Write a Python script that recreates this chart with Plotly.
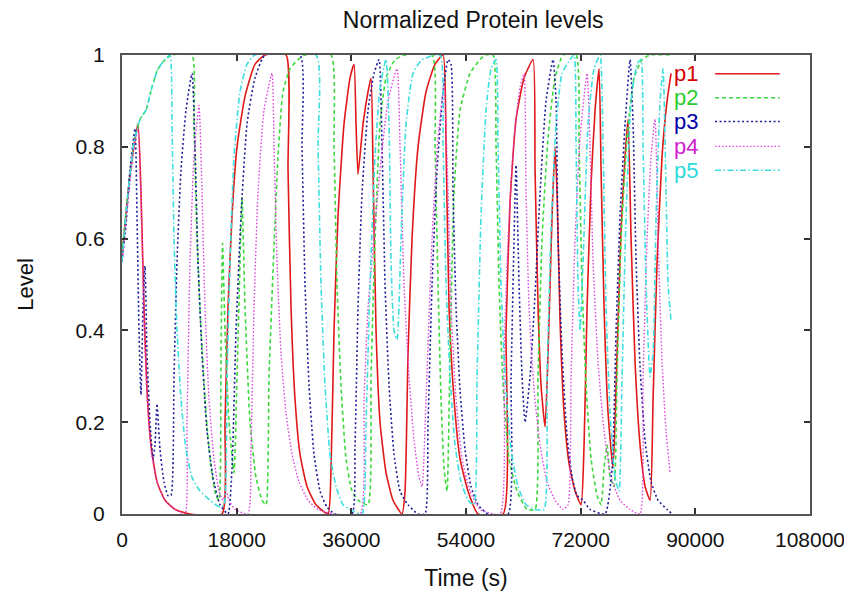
import plotly.graph_objects as go

# ---------------- data (time in s, normalized level) ----------------
t_p1 = [0, 1256, 2512, 2983, 3454, 3925, 4553, 5495, 6751, 8321, 10676, 15700, 16171, 16642, 17270, 18055, 19311, 20881, 22451,
        25748, 26062, 26533, 27161, 27946, 29045, 30458, 32342, 32813, 33284, 33912, 34854, 35796, 36424, 36738, 37052, 37837,
        38622, 39093, 39407, 39878, 40506, 41448, 42547, 43960, 44431, 44902, 45530, 46472, 47728, 49141, 50397, 50868, 51339,
        52124, 53066, 54322, 55892, 59817, 60288, 60916, 61858, 63114, 64527, 64841, 65312, 65783, 66411, 66882, 67510, 67981,
        68295, 68766, 69394, 70179, 71121, 72063, 72534, 73005, 73633, 74261, 74889, 75203, 75674, 76302, 77087, 77715, 78343,
        78971, 79442, 79913, 80541, 81326, 82111, 82896, 83367, 83995, 84780, 85565, 86193]
y_p1 = [0.56, 0.74, 0.85, 0.70, 0.45, 0.27, 0.15, 0.07, 0.03, 0.01, 0.0, 0.0, 0.2, 0.45, 0.65, 0.8, 0.91, 0.98, 1.0,
        1.0, 0.75, 0.45, 0.25, 0.13, 0.06, 0.02, 0.0, 0.1, 0.4, 0.65, 0.85, 0.95, 0.98, 0.85, 0.74, 0.85,
        0.92, 0.95, 0.75, 0.4, 0.2, 0.09, 0.03, 0.0, 0.05, 0.35, 0.6, 0.8, 0.92, 0.98, 1.0, 0.8, 0.45,
        0.25, 0.12, 0.05, 0.0, 0.0, 0.4, 0.68, 0.86, 0.95, 0.99, 0.75, 0.45, 0.28, 0.19, 0.35, 0.65, 0.8,
        0.7, 0.42, 0.22, 0.11, 0.05, 0.02, 0.15, 0.45, 0.72, 0.88, 0.97, 0.75, 0.45, 0.22, 0.1, 0.35, 0.62,
        0.78, 0.86, 0.6, 0.33, 0.15, 0.06, 0.03, 0.25, 0.55, 0.78, 0.9, 0.96]

t_p2 = [0, 942, 1884, 2826, 3768, 4710, 5652, 6751, 7850, 10990, 11304, 11775, 12403, 13188, 13973, 14758, 15229, 15543, 15779,
        16171, 16799, 17584, 18055, 18526, 18840, 19311, 20096, 21038, 21980, 22608, 23079, 23707, 24492, 25277, 26376, 27632,
        28731, 32813, 33284, 33755, 34383, 35168, 36110, 37052, 38622, 39093, 39721, 40506, 41448, 42861, 44431, 48670, 49141,
        49612, 50083, 50554, 51025, 51496, 52124, 53066, 54636, 56206, 56991, 58247, 58718, 59189, 59817, 60759, 62015, 63585,
        64841, 65312, 65940, 66882, 67981, 69237, 71278, 71749, 72220, 72848, 73633, 74575, 75203, 75674, 76145, 76616, 77244,
        77715, 78343, 79285, 80384, 81640, 82896, 86350]
y_p2 = [0.57, 0.70, 0.81, 0.86, 0.88, 0.93, 0.97, 0.99, 1.0, 1.0, 0.85, 0.6, 0.4, 0.22, 0.1, 0.04, 0.03, 0.35, 0.59,
        0.4, 0.2, 0.09, 0.3, 0.55, 0.69, 0.45, 0.2, 0.08, 0.03, 0.02, 0.3, 0.53, 0.78, 0.92, 0.97, 0.99,
        1.0, 1.0, 0.8, 0.5, 0.28, 0.12, 0.05, 0.03, 0.02, 0.3, 0.6, 0.85, 0.95, 0.99, 1.0, 1.0, 0.8,
        0.5, 0.25, 0.1, 0.05, 0.35, 0.7, 0.88, 0.96, 0.99, 1.0, 1.0, 0.8, 0.5, 0.28, 0.12, 0.05, 0.01,
        0.01, 0.3, 0.6, 0.82, 0.95, 1.0, 1.0, 0.8, 0.5, 0.28, 0.12, 0.04, 0.02, 0.1, 0.15, 0.08, 0.06,
        0.3, 0.6, 0.82, 0.95, 0.99, 1.0, 1.0]

t_p3 = [0, 628, 1256, 2041, 2355, 2669, 2983, 3297, 3611, 3925, 4396, 4867, 5181, 5495, 5966, 6594, 7222, 7693, 8164, 8635,
        9263, 10048, 10990, 11461, 11932, 12560, 13345, 14287, 15386, 16642, 17270, 17898, 18683, 19625, 20881, 22451, 27946,
        28260, 28731, 29359, 30144, 31086, 32185, 33441, 36110, 36581, 37052, 37680, 38622, 39564, 40349, 40820, 41291, 41919,
        42704, 43646, 44902, 46472, 47571, 48042, 48670, 49455, 50397, 51182, 51653, 51967, 52438, 53066, 53851, 54793, 55892,
        57462, 60602, 61073, 61544, 61858, 62329, 62800, 63271, 64056, 64841, 65626, 66568, 67667, 68138, 68452, 69080, 69865,
        70650, 71435, 72377, 73476, 75831, 76930, 77558, 78186, 78971, 79756, 80227, 80698, 81326, 82111, 83053, 84152, 85565,
        86350]
y_p3 = [0.55, 0.63, 0.75, 0.84, 0.65, 0.4, 0.26, 0.45, 0.54, 0.35, 0.2, 0.12, 0.15, 0.24, 0.14, 0.07, 0.04, 0.04, 0.3, 0.55,
        0.75, 0.88, 0.96, 0.8, 0.55, 0.35, 0.18, 0.08, 0.02, 0.0, 0.1, 0.4, 0.65, 0.85, 0.95, 1.0, 1.0,
        0.8, 0.5, 0.28, 0.13, 0.05, 0.015, 0.0, 0.0, 0.15, 0.45, 0.7, 0.88, 0.96, 0.99, 0.8, 0.5, 0.28,
        0.13, 0.05, 0.02, 0.0, 0.0, 0.2, 0.5, 0.75, 0.92, 0.99, 0.98, 0.7, 0.45, 0.27, 0.14, 0.06, 0.02,
        0.0, 0.0, 0.3, 0.6, 0.76, 0.5, 0.3, 0.2, 0.3, 0.48, 0.7, 0.9, 0.99, 0.9, 0.6, 0.35, 0.17,
        0.08, 0.04, 0.03, 0.01, 0.0, 0.1, 0.4, 0.65, 0.85, 0.99, 0.85, 0.55, 0.32, 0.16, 0.07, 0.03, 0.01,
        0.0]

t_p4 = [0, 942, 1884, 2512, 2983, 3454, 3925, 4553, 5495, 6751, 8321, 9891, 10205, 10676, 11304, 12089, 12560, 13031, 13659,
        14444, 15229, 15857, 16328, 16799, 17741, 19782, 20253, 20724, 21352, 22294, 23550, 23864, 24335, 24963, 25748, 26690,
        27789, 29202, 30772, 33127, 37366, 37994, 38622, 39407, 40506, 41762, 43175, 43646, 44274, 45059, 45844, 46629, 47100,
        47728, 48670, 49612, 50554, 51182, 51653, 52438, 53380, 54636, 56206, 59346, 59974, 60602, 61544, 62486, 63114, 63428,
        63899, 64684, 65626, 66725, 67981, 69237, 70022, 70493, 71121, 71906, 73005, 73476, 73947, 74732, 75674, 76773, 78186,
        79756, 81326, 81797, 82425, 83053, 83681, 84152, 84780, 85408, 86036]
y_p4 = [0.55, 0.68, 0.8, 0.84, 0.68, 0.43, 0.26, 0.14, 0.07, 0.03, 0.01, 0.0, 0.2, 0.55, 0.78, 0.89, 0.7, 0.45, 0.25,
        0.12, 0.05, 0.03, 0.05, 0.03, 0.01, 0.0, 0.15, 0.45, 0.7, 0.88, 0.96, 0.8, 0.55, 0.35, 0.22, 0.13,
        0.07, 0.03, 0.01, 0.0, 0.0, 0.25, 0.45, 0.58, 0.75, 0.9, 0.97, 0.8, 0.5, 0.3, 0.16, 0.08, 0.06,
        0.25, 0.6, 0.82, 0.93, 0.7, 0.45, 0.25, 0.12, 0.05, 0.01, 0.0, 0.35, 0.6, 0.82, 0.93, 0.96, 0.7,
        0.45, 0.27, 0.15, 0.07, 0.03, 0.01, 0.02, 0.3, 0.6, 0.82, 0.96, 0.8, 0.55, 0.33, 0.18, 0.08, 0.03,
        0.01, 0.0, 0.3, 0.6, 0.78, 0.86, 0.6, 0.33, 0.18, 0.09]

t_p5 = [0, 942, 1884, 2826, 3768, 4710, 5652, 6751, 7536, 7850, 8164, 8635, 9263, 10048, 10990, 12246, 13816, 15386, 16014,
        16485, 16956, 17584, 18526, 19625, 20881, 30458, 30772, 31243, 31871, 32656, 33598, 34697, 35796, 37680, 38308, 38936,
        39721, 40506, 41448, 41919, 42233, 42704, 43175, 43803, 44588, 45687, 47100, 49926, 50397, 50868, 51496, 52281, 53223,
        54322, 55264, 55735, 56363, 57148, 57933, 58718, 59032, 59503, 60131, 61073, 62172, 63428, 64841, 66254, 66725, 67353,
        68138, 69080, 70336, 70964, 71278, 71592, 71906, 72377, 73162, 74104, 75046, 75517, 75988, 76616, 77401, 78029, 78500,
        79128, 79913, 80855, 81483, 81797, 82268, 82896, 83367, 83838, 84466, 84937, 85408, 85722, 86193]
y_p5 = [0.55, 0.7, 0.81, 0.86, 0.88, 0.93, 0.97, 0.99, 1.0, 0.85, 0.6, 0.4, 0.25, 0.14, 0.08, 0.05, 0.03, 0.015, 0.02,
        0.3, 0.55, 0.78, 0.92, 0.98, 1.0, 1.0, 0.8, 0.5, 0.28, 0.13, 0.06, 0.02, 0.01, 0.0, 0.2, 0.5,
        0.78, 0.93, 0.99, 0.85, 0.55, 0.4, 0.38, 0.6, 0.85, 0.96, 0.99, 1.0, 0.8, 0.5, 0.3, 0.15, 0.07,
        0.03, 0.02, 0.3, 0.65, 0.88, 0.97, 0.99, 0.8, 0.5, 0.3, 0.14, 0.06, 0.02, 0.01, 0.01, 0.3, 0.62,
        0.85, 0.96, 0.99, 1.0, 0.8, 0.5, 0.4, 0.55, 0.85, 0.97, 1.0, 0.8, 0.45, 0.22, 0.08, 0.05, 0.3,
        0.65, 0.9, 0.98, 0.99, 0.8, 0.5, 0.3, 0.35, 0.65, 0.9, 0.97, 0.7, 0.5, 0.42]

names = ["p1", "p2", "p3", "p4", "p5"]
x_ticks = [0, 18000, 36000, 54000, 72000, 90000, 108000]
y_ticks = [0, 0.2, 0.4, 0.6, 0.8, 1]

# ---------------- styles ----------------
series = [
    (t_p1, y_p1, "#e01818", "solid", 1.6),
    (t_p2, y_p2, "#3cd83c", "4px,3px", 1.6),
    (t_p3, y_p3, "#1c1c9a", "2px,2.5px", 1.6),
    (t_p4, y_p4, "#e040e0", "1.5px,2px", 1.4),
    (t_p5, y_p5, "#3cdede", "6px,2.5px,1.5px,2.5px", 1.6),
]
label_colors = ["#d40000", "#2ccc2c", "#0000aa", "#d020d0", "#2adada"]

fig = go.Figure()
for (t, y, c, d, w), n in zip(series, names):
    fig.add_trace(go.Scatter(x=t, y=y, mode="lines", name=n,
                             line=dict(color=c, dash=d, width=w, shape="spline", smoothing=0.5),
                             showlegend=False))

# gnuplot-like key: coloured label on the left, line sample on the right
key_y = [0.959, 0.907, 0.855, 0.801, 0.749]
for (t, y, c, d, w), n, lc, ky in zip(series, names, label_colors, key_y):
    fig.add_annotation(x=0.800, y=ky, xref="paper", yref="paper", text=n, showarrow=False,
                       xanchor="left", yanchor="middle",
                       font=dict(family="Liberation Sans, Arial, sans-serif", size=22, color=lc))
    fig.add_shape(type="line", xref="paper", yref="paper", x0=0.862, x1=0.956, y0=ky, y1=ky,
                  line=dict(color=c, dash=d, width=w))

FONT = "Liberation Sans, Arial, sans-serif"
axis_font = dict(family=FONT, size=21, color="#111111")
title_font = dict(family=FONT, size=23, color="#111111")
# the page body has an 8px margin; margins below are chosen so the plot box
# lands at x 122..810, y 55..517 in the browser window
fig.update_layout(
    width=852, height=591,
    margin=dict(l=114, r=50, t=47, b=82),
    paper_bgcolor="white", plot_bgcolor="white",
    title=dict(text="Normalized Protein levels", x=0.546, xanchor="center", y=0.980, yanchor="middle",
               font=title_font),
    font=axis_font,
)
fig.update_xaxes(range=[0, 108000], tickvals=x_ticks, ticktext=[str(v) for v in x_ticks],
                 showgrid=False, zeroline=False, showline=True, linecolor="#555555", linewidth=2,
                 mirror="ticks", ticks="inside", ticklen=6, tickcolor="#333333", tickwidth=1.5,
                 tickfont=axis_font, ticklabelstandoff=6,
                 title=dict(text="Time (s)", font=dict(family=FONT, size=23, color="#111111"), standoff=20))
fig.update_yaxes(range=[0, 1], tickvals=y_ticks, ticktext=["0", "0.2", "0.4", "0.6", "0.8", "1"],
                 showgrid=False, zeroline=False, showline=True, linecolor="#555555", linewidth=2,
                 mirror="ticks", ticks="inside", ticklen=6, tickcolor="#333333", tickwidth=1.5,
                 tickfont=axis_font, ticklabelstandoff=11,
                 title=dict(text="Level", font=dict(family=FONT, size=22, color="#111111"), standoff=36))

fig.write_html("out.html")
